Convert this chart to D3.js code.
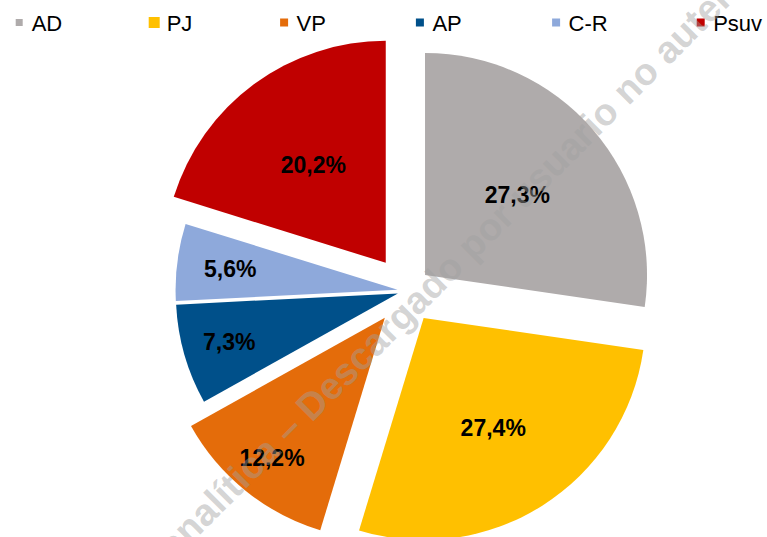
<!DOCTYPE html>
<html>
<head>
<meta charset="utf-8">
<script src="https://cdn.jsdelivr.net/npm/d3@7/dist/d3.min.js"></script>
<style>
  html, body { margin: 0; padding: 0; background: #fff; }
  svg { display: block; }
</style>
</head>
<body>
<svg id="chart" width="767" height="537"></svg>
<script>
// ---- Data ----
const parties = ["AD", "PJ", "VP", "AP", "C-R", "Psuv"];
const shares = [27.3, 27.4, 12.2, 7.3, 5.6, 20.2];
const shareLabels = ["27,3%", "27,4%", "12,2%", "7,3%", "5,6%", "20,2%"];
const colors = ["#AFABAB", "#FFC000", "#E46C0A", "#00508A", "#8EA9DB", "#C00000"];
const watermarkText = "analítica – Descargado por usuario no autenticado";

// ---- Layout (styling, not data) ----
const W = 767, H = 537;
const cx = 406.5, cy = 291, radius = 222;
const explode = [24.5, 32, 34.5, 9, 9, 35];          // per-slice explosion (px)
const labelFrac = [0.55, 0.585, 0.81, 0.79, 0.76, 0.55]; // label distance as fraction of radius
const legendTextX = [31.7, 166.7, 296.6, 432.4, 568.6, 713.2];
const legendSquare = [7, 11, 8, 8, 8, 8];

const svg = d3.select("#chart");

const pie = d3.pie().sort(null).value(d => d.v).startAngle(0).endAngle(2 * Math.PI);
const data = parties.map((p, i) => ({ name: p, v: shares[i], label: shareLabels[i], color: colors[i], i }));
const arcs = pie(data);
const arc = d3.arc().innerRadius(0).outerRadius(radius);

const g = svg.append("g").attr("transform", `translate(${cx},${cy})`);

function offset(d, dist) {
  const mid = (d.startAngle + d.endAngle) / 2;
  return [Math.sin(mid) * dist, -Math.cos(mid) * dist];
}

const slices = g.selectAll("g.slice").data(arcs).enter().append("g")
  .attr("class", "slice")
  .attr("transform", d => { const o = offset(d, explode[d.data.i]); return `translate(${o[0]},${o[1]})`; });

slices.append("path")
  .attr("d", arc)
  .attr("fill", d => d.data.color);

slices.append("text")
  .attr("x", d => offset(d, radius * labelFrac[d.data.i])[0])
  .attr("y", d => offset(d, radius * labelFrac[d.data.i])[1])
  .attr("dy", "0.35em")
  .attr("text-anchor", "middle")
  .attr("font-family", "'Liberation Sans', Arial, sans-serif")
  .attr("font-weight", "bold")
  .attr("font-size", 23)
  .attr("fill", "#000")
  .text(d => d.data.label);

// ---- Legend ----
const legend = svg.append("g");
data.forEach((d, i) => {
  const s = legendSquare[i];
  const sqCx = legendTextX[i] - 12.5;
  legend.append("rect")
    .attr("x", sqCx - s / 2).attr("y", 22.5 - s / 2)
    .attr("width", s).attr("height", s)
    .attr("fill", d.color);
  legend.append("text")
    .attr("x", legendTextX[i]).attr("y", 31)
    .attr("font-family", "'Liberation Sans', Arial, sans-serif")
    .attr("font-size", 22)
    .attr("fill", "#000")
    .text(d.name);
});

// ---- Watermark ----
svg.append("text")
  .attr("transform", "translate(165,551) rotate(-45)")
  .attr("dy", "0.35em")
  .attr("font-family", "'Liberation Sans', Arial, sans-serif")
  .attr("font-weight", "bold")
  .attr("font-size", 38)
  .attr("fill", "#a0a0a0")
  .attr("fill-opacity", 0.45)
  .text(watermarkText);
</script>
</body>
</html>
